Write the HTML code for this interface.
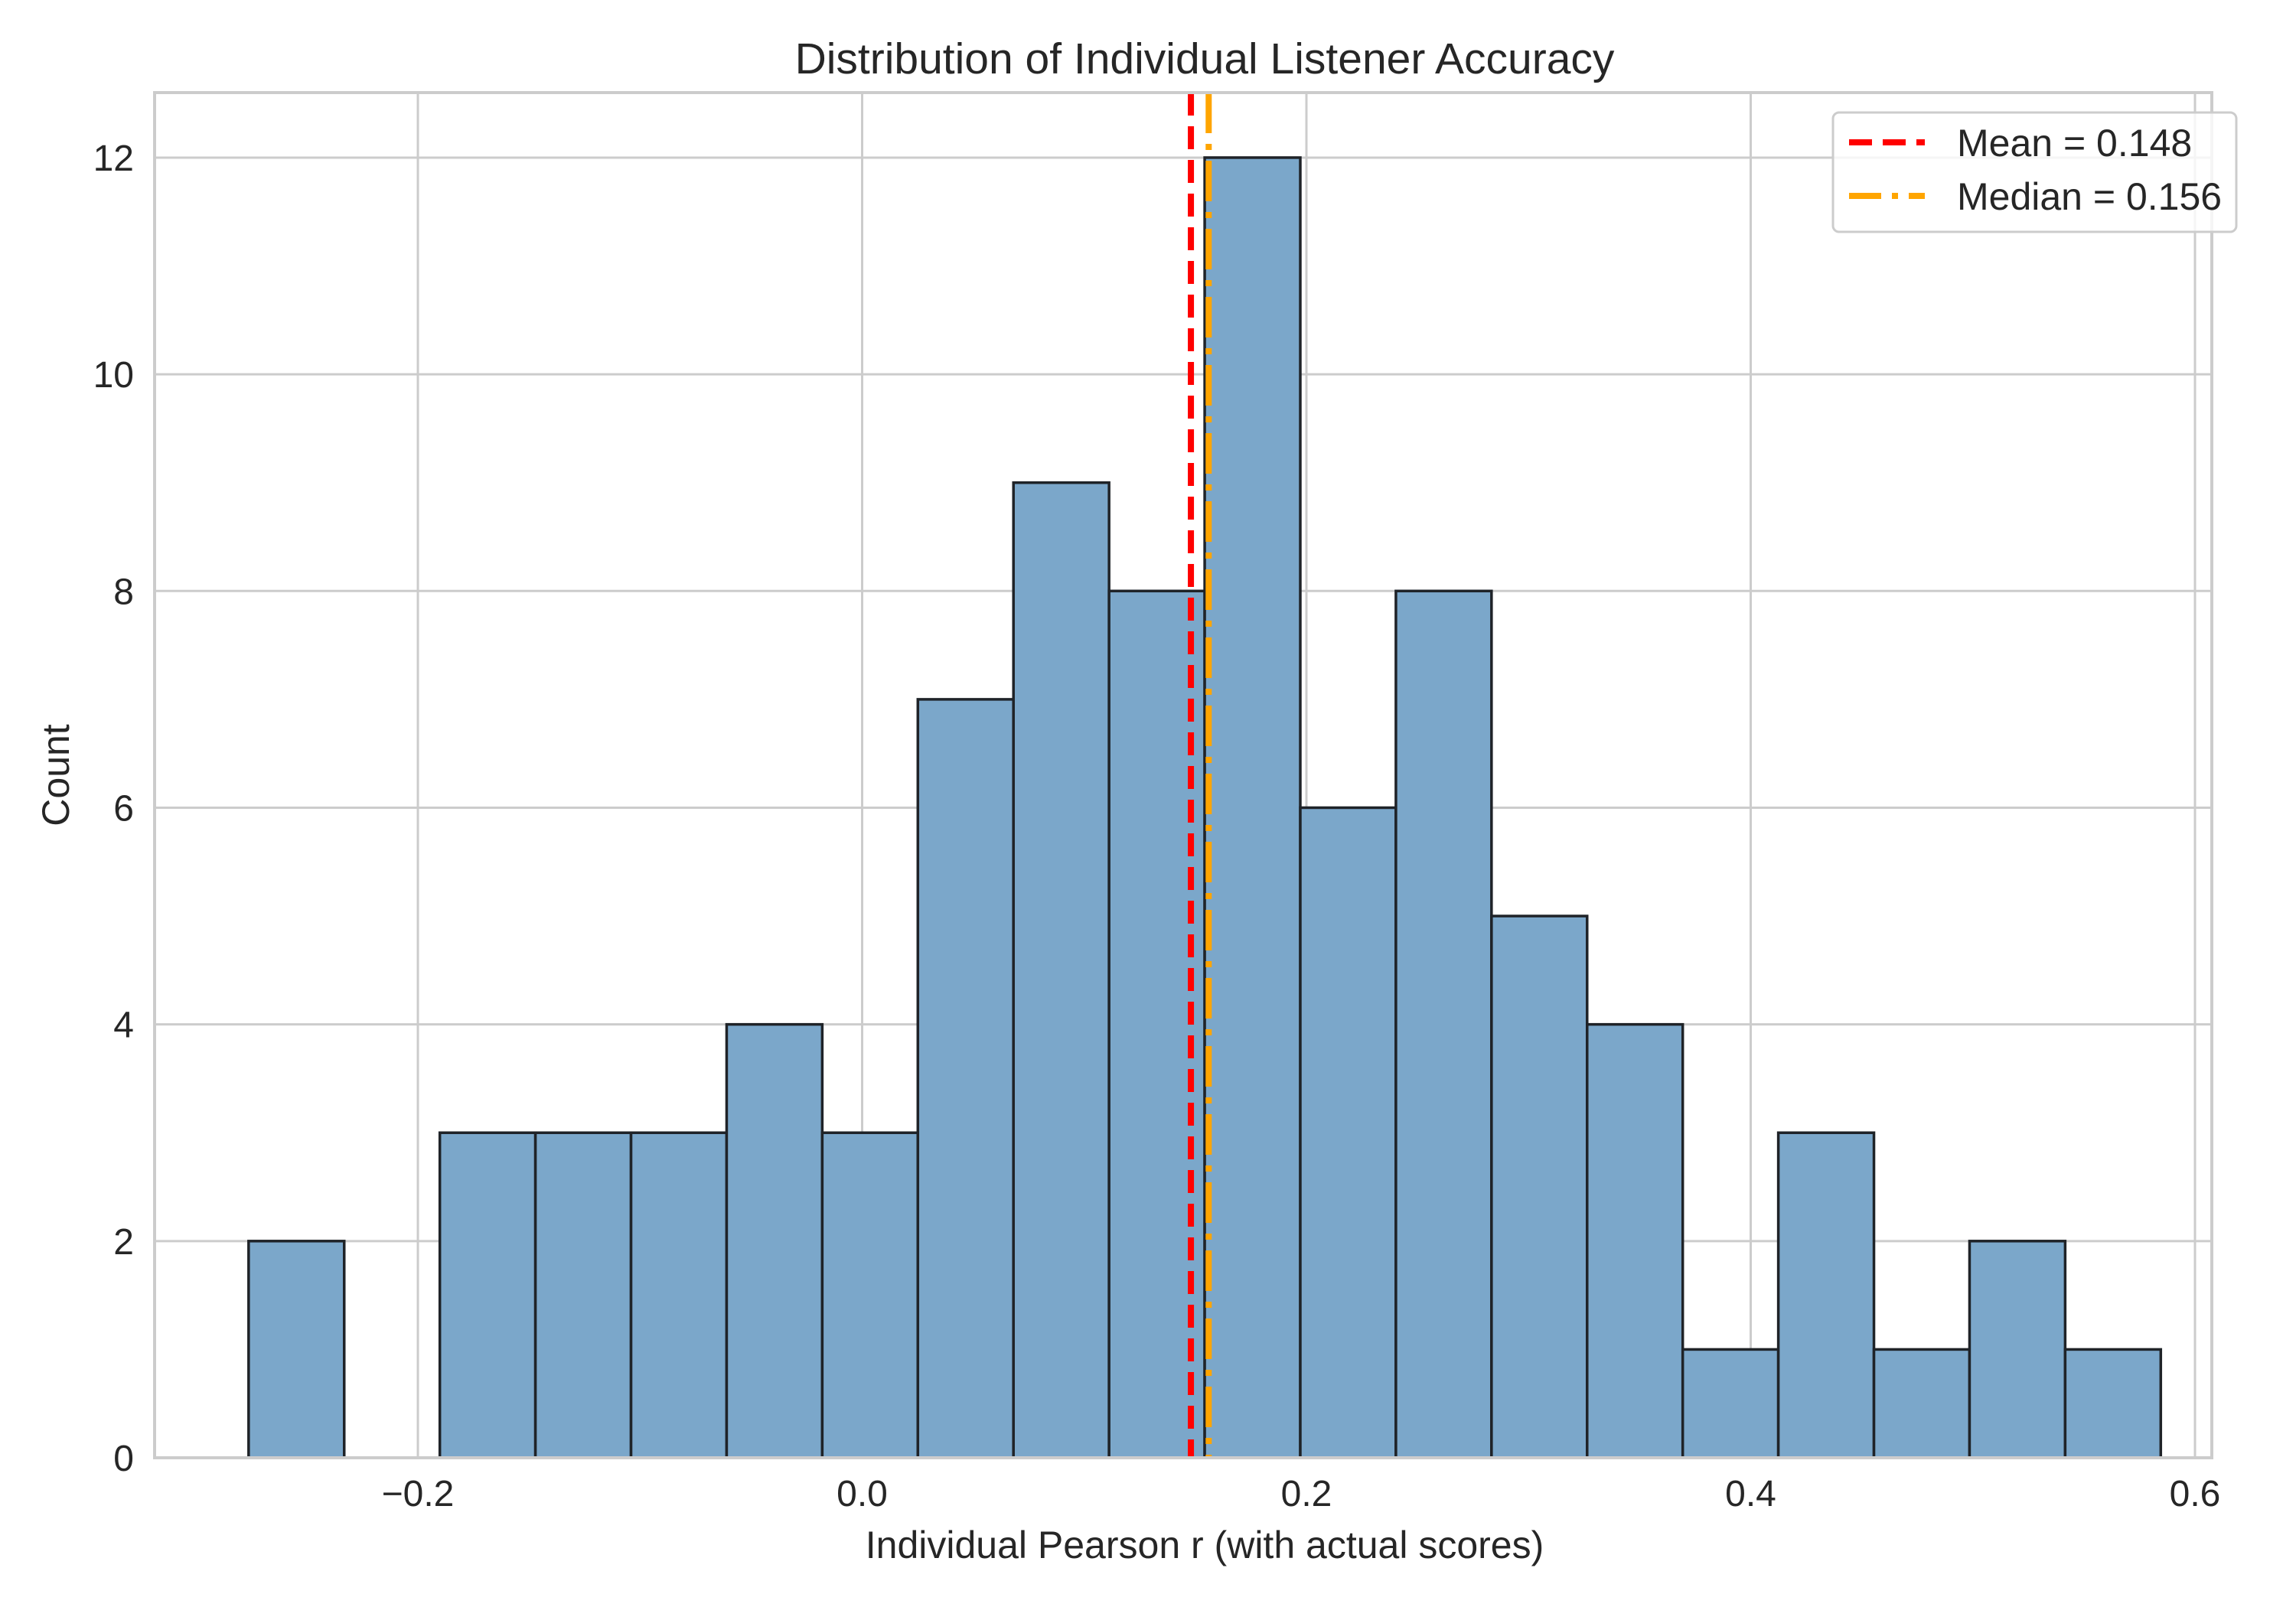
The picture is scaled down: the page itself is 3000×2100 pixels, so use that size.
<!DOCTYPE html>
<html><head><meta charset="utf-8"><style>
html,body{margin:0;padding:0;background:#fff;}
svg{display:block;font-family:"Liberation Sans",sans-serif;}
</style></head><body>
<svg id="chart" width="3000" height="2100" viewBox="0 0 3000 2100">
<g id="grid"></g>
<g id="bars"></g>
<g id="refs"></g>
<g id="axes"></g>
<text x="1574" y="96" font-size="57" text-anchor="middle" fill="#262626">Distribution of Individual Listener Accuracy</text>
<text x="1574" y="2036" font-size="50" text-anchor="middle" fill="#262626">Individual Pearson r (with actual scores)</text>
<text x="0" y="0" font-size="50" text-anchor="middle" fill="#262626" transform="translate(90,1013) rotate(-90)">Count</text>
<g>
<rect x="2395" y="147" width="527" height="156" rx="8" fill="#fff" fill-opacity="0.8" stroke="#cccccc" stroke-width="3"/>
<line x1="2416" y1="186" x2="2515" y2="186" stroke="#ff0000" stroke-width="8" stroke-dasharray="30,14"/>
<text x="2557" y="204" font-size="50" fill="#262626">Mean = 0.148</text>
<line x1="2416" y1="256" x2="2515" y2="256" stroke="#ffa500" stroke-width="8" stroke-dasharray="42,14,8,14"/>
<text x="2557" y="274" font-size="50" fill="#262626">Median = 0.156</text>
</g>
</svg>
<script>
const counts = [2,0,3,3,3,4,3,7,9,8,12,6,8,5,4,1,3,1,2,1];
const binStart = -0.2762;
const binWidth = 0.04304;
const xTicks = [-0.2, 0.0, 0.2, 0.4, 0.6];
const xTickLabels = ["\u22120.2","0.0","0.2","0.4","0.6"];
const yTicks = [0,2,4,6,8,10,12];
const meanVal = 0.148;
const medianVal = 0.156;

const L=202,R=2890,T=121,B=1905;
const yMax=12.6;
const x=v=>1126.5+v*2902.5;
const y=v=>B-(v/yMax)*(B-T);
const NS="http://www.w3.org/2000/svg";
function mk(tag,attrs,parent){const e=document.createElementNS(NS,tag);for(const k in attrs)e.setAttribute(k,attrs[k]);parent.appendChild(e);return e;}
const grid=document.getElementById('grid'),bars=document.getElementById('bars'),refs=document.getElementById('refs'),axes=document.getElementById('axes');
xTicks.forEach((t,i)=>{
  const g=mk('line',{x1:x(t),x2:x(t),y1:T,y2:B,stroke:'#cccccc','stroke-width':3},grid);
  
  
  const l=mk('text',{x:x(t),y:1968,'font-size':48,'text-anchor':'middle',fill:'#262626'},axes);
  l.textContent=xTickLabels[i];
  
  
});
yTicks.forEach(t=>{
  const g=mk('line',{x1:L,x2:R,y1:y(t),y2:y(t),stroke:'#cccccc','stroke-width':3},grid);
  
  
  const l=mk('text',{x:175,y:y(t)+17,'font-size':48,'text-anchor':'end',fill:'#262626'},axes);
  l.textContent=String(t);
  
  
});
counts.forEach((c,i)=>{
  const x0=x(binStart+i*binWidth),x1=x(binStart+(i+1)*binWidth);
  const r=mk('rect',{x:x0,y:y(c),width:x1-x0,height:B-y(c),fill:'#7ba7ca',stroke:'#1f2328','stroke-width':3.5},bars);
  
  
});
const m=mk('line',{x1:x(meanVal),x2:x(meanVal),y1:T,y2:B,stroke:'#ff0000','stroke-width':8,'stroke-dasharray':'30,14'},refs);


const md=mk('line',{x1:x(medianVal),x2:x(medianVal),y1:T,y2:B,stroke:'#ffa500','stroke-width':8,'stroke-dasharray':'53,14,8,14'},refs);


const fr=mk('rect',{x:L,y:T,width:R-L,height:B-T,fill:'none',stroke:'#cccccc','stroke-width':4},axes);


</script>
</body></html>
